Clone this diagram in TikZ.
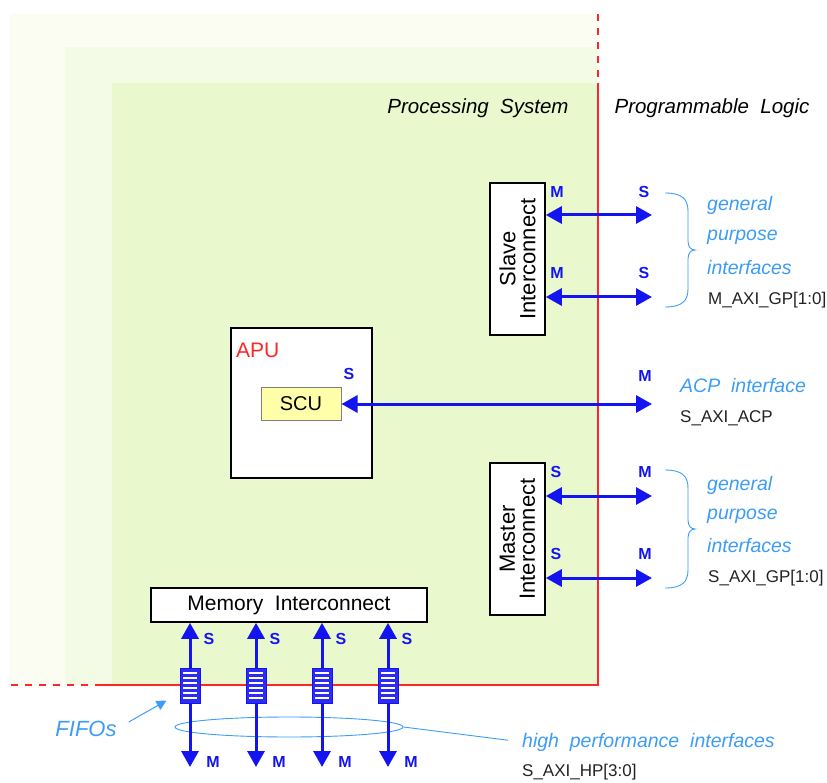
\documentclass[tikz,border=0pt]{standalone}
\usepackage{fontspec}
\setmainfont{Liberation Sans}
\usetikzlibrary{arrows.meta,shapes.geometric,calc}

\definecolor{psouter}{HTML}{FBFDF3}
\definecolor{psmid}{HTML}{F3FAE5}
\definecolor{psmain}{HTML}{E9F9CD}
\definecolor{psred}{HTML}{FF2626}
\definecolor{busblue}{HTML}{1414F0}
\definecolor{noteblue}{HTML}{3C9CF6}
\definecolor{scufill}{HTML}{FFFFAA}
\definecolor{sigtext}{HTML}{222222}

% curly brace opening to the left: x of the open ends, y of the tip, half height
\newcommand\specbrace[3]{%
  \draw[noteblue,line width=0.9pt]
    (#1,#2-#3) .. controls (#1+17,#2-#3) and (#1+23,#2-#3+6) .. (#1+23,#2-#3+18)
    -- (#1+23,#2-9) .. controls (#1+23,#2-3) and (#1+26,#2) .. (#1+30,#2)
    .. controls (#1+26,#2) and (#1+23,#2+3) .. (#1+23,#2+9)
    -- (#1+23,#2+#3-18) .. controls (#1+23,#2+#3-6) and (#1+17,#2+#3) .. (#1,#2+#3);}

\begin{document}
\begin{tikzpicture}[x=1pt,y=-1pt,
  box/.style={draw=black,line width=1.6pt,fill=white,inner sep=0pt},
  vlabel/.style={rotate=90,align=center,inner sep=0pt,
    font=\fontsize{22}{20}\selectfont},
  bustip/.tip={Triangle[length=16pt,width=17pt]},
  bus/.style={draw=busblue,line width=3pt,bustip-bustip},
  busend/.style={draw=busblue,line width=3pt,-bustip},
  port/.style={text=busblue,inner sep=0pt,font=\fontsize{16}{16}\selectfont\bfseries},
  note/.style={text=noteblue,anchor=west,inner sep=0pt,
    font=\fontsize{19.5}{19.5}\selectfont\itshape},
  sig/.style={text=sigtext,anchor=west,inner sep=0pt,font=\fontsize{17}{17}\selectfont},
  fifo/.style={rectangle,draw=busblue,fill=busblue!90,line width=1pt,
    minimum width=20pt,minimum height=35pt,inner sep=0pt,
    path picture={\foreach \k in {1,...,6}
      \draw[white,line width=1.1pt]
        ([xshift=3pt,yshift=-\k*5pt]path picture bounding box.north west) --
        ([xshift=-3pt,yshift=-\k*5pt]path picture bounding box.north east);}},
  redline/.style={draw=psred,line width=1.8pt},
  reddash/.style={redline,dash pattern=on 7pt off 7pt}]

\useasboundingbox (0,0) rectangle (827,783);

% nested processing-system backgrounds
\fill[psouter] (10,14) rectangle (598,685);
\fill[psmid] (65,47) rectangle (598,685);
\fill[psmain] (112,83) rectangle (598,685);

% PS / PL boundary
\draw[reddash] (598,14) -- (598,83);
\draw[redline] (598,83) -- (598,685) -- (102,685);
\draw[reddash] (102,685) -- (10,685);

\node[inner sep=0pt,font=\fontsize{20.5}{20.5}\selectfont\itshape] (pstitle) at (478,108) {Processing~~System};
\node[inner sep=0pt,font=\fontsize{20.5}{20.5}\selectfont\itshape] (pltitle) at (712,108) {Programmable~~Logic};

% interconnect blocks
\node[box,minimum width=55pt,minimum height=152pt] (slave) at (517.5,259) {};
\node[vlabel] (slavetxt) at (slave.center) {Slave\\Interconnect};
\node[box,minimum width=55pt,minimum height=152pt] (master) at (517.5,539) {};
\node[vlabel] (mastertxt) at (master.center) {Master\\Interconnect};
\node[box,minimum width=276pt,minimum height=34pt,font=\fontsize{21}{21}\selectfont]
  (mem) at (289,605) {Memory~~Interconnect};

% APU with its snoop control unit
\node[box,minimum width=141pt,minimum height=150pt] (apu) at (301.5,403) {};
\node[text=psred,anchor=west,inner sep=0pt,font=\fontsize{21}{21}\selectfont] (aputxt) at (236,350) {APU};
\node[draw=black!50,fill=scufill,line width=1pt,minimum width=80pt,minimum height=33pt,
  inner sep=0pt,font=\fontsize{20}{20}\selectfont] (scu) at (301,404) {SCU};

% PL-side end points
\coordinate (gpm0) at (652,215);
\coordinate (gpm1) at (652,297);
\coordinate (acp) at (652,404);
\coordinate (gps0) at (652,496);
\coordinate (gps1) at (652,578);

% general purpose master ports
\draw[bus] (slave.east |- gpm0) -- (gpm0);
\draw[bus] (slave.east |- gpm1) -- (gpm1);
\node[port] at (557,192) {M};
\node[port] at (557,273) {M};
\node[port] at (644,192) {S};
\node[port] at (644,273) {S};

% ACP
\draw[bus] (scu.east) -- (acp);
\node[port] at (349,374) {S};
\node[port] at (645,376) {M};

% general purpose slave ports
\draw[bus] (master.east |- gps0) -- (gps0);
\draw[bus] (master.east |- gps1) -- (gps1);
\node[port] at (556,472) {S};
\node[port] at (556,554) {S};
\node[port] at (645,472) {M};
\node[port] at (645,554) {M};

% interface notes
\specbrace{665}{250}{57}
\node[note] (gp0a) at (707,205) {general};
\node[note] (gp0b) at (707,237) {purpose};
\node[note] (gp0c) at (707,268) {interfaces};
\node[sig] (gp0s) at (708,300) {M\_AXI\_GP[1:0]};

\node[note] (acpn) at (680,386) {ACP~~interface};
\node[sig] (acps) at (680,418) {S\_AXI\_ACP};

\specbrace{665}{529}{59}
\node[note] (gp1a) at (707,485) {general};
\node[note] (gp1b) at (707,516) {purpose};
\node[note] (gp1c) at (707,546) {interfaces};
\node[sig] (gp1s) at (708,578) {S\_AXI\_GP[1:0]};

% high performance ports
\node[draw=noteblue,ellipse,line width=0.9pt,minimum width=228pt,minimum height=20pt,inner sep=0pt]
  (hpring) at (289,727) {};
\node[note] (hpn) at (522,742) {high~~performance~~interfaces};
\node[sig] (hps) at (522,772) {S\_AXI\_HP[3:0]};
\draw[noteblue,line width=0.9pt,shorten >=14pt] (hpring.east) -- (hpn.west);

\foreach \i/\x in {0/190,1/256,2/322,3/388}{
  \coordinate (hpm\i) at (\x,767);
  \node[fifo] (fifo\i) at (\x,685.5) {};
  \draw[busend] (fifo\i.north) -- (fifo\i.north |- mem.south);
  \draw[busend] (fifo\i.south) -- (hpm\i);
  \node[port] at (\x+19,639) {S};
  \node[port] at (\x+23,762) {M};
}
% redraw FIFOs over the bus lines
\foreach \i/\x in {0/190,1/256,2/322,3/388}{
  \node[fifo] at (\x,685.5) {};
}

\node[text=noteblue,inner sep=0pt,font=\fontsize{22}{22}\selectfont\itshape] (fifon) at (86,729) {FIFOs};
\draw[noteblue,line width=1pt,-{Triangle[length=10pt,width=10pt]}]
  ($(fifon.east)+(12,-7)$) -- ($(fifo0.south west)+(-13,-3)$);

\end{tikzpicture}
\end{document}
